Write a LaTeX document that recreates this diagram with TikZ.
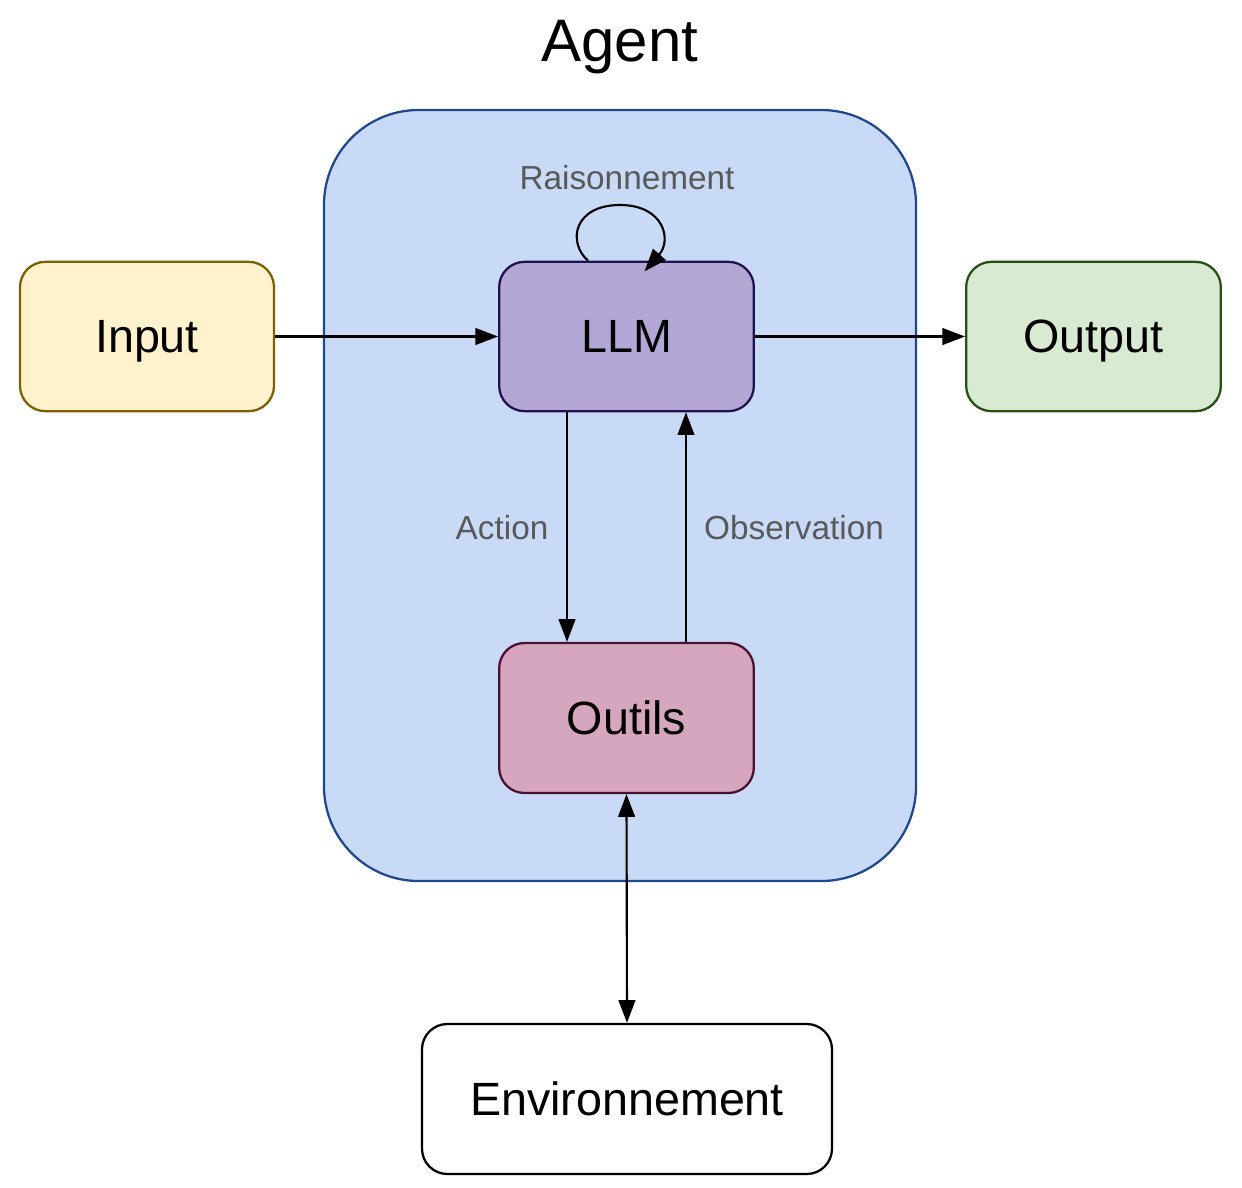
\documentclass[tikz,border=0pt]{standalone}
\usepackage{fontspec}
\setmainfont{Liberation Sans}
\usetikzlibrary{arrows.meta}
\definecolor{agentfill}{RGB}{201,218,247}
\definecolor{agentline}{RGB}{32,72,140}
\definecolor{infill}{RGB}{255,242,204}
\definecolor{inline}{RGB}{127,96,0}
\definecolor{llmfill}{RGB}{180,167,214}
\definecolor{llmline}{RGB}{32,18,77}
\definecolor{outfill}{RGB}{217,234,211}
\definecolor{outline}{RGB}{39,78,19}
\definecolor{toolfill}{RGB}{213,166,189}
\definecolor{toolline}{RGB}{76,17,48}
\definecolor{lblgray}{RGB}{89,89,89}
\tikzset{
  boxnode/.style={rectangle, rounded corners=19pt, line width=1.7pt, inner sep=0pt,
     minimum width=191pt, minimum height=112pt, text depth=0pt, font=\fontsize{35}{40}\selectfont},
  arr/.style={line width=1.6pt, -{Triangle[length=17pt,width=12.5pt]}},
  lbl/.style={font=\fontsize{25}{30}\selectfont, text=lblgray},
}
\begin{document}
\begin{tikzpicture}[x=0.75pt,y=-0.75pt]
\useasboundingbox (0,0) rectangle (1242,1188);
\node[rectangle, rounded corners=71pt, fill=agentfill, draw=agentline, line width=1.7pt,
      minimum width=444pt, minimum height=578.25pt, inner sep=0pt] (agent) at (620,495.5) {};
\node[font=\fontsize{45}{54}\selectfont, anchor=base] (title) at (620,62) {Agent};
\node[boxnode, fill=infill, draw=inline, minimum width=190.5pt] (input) at (147,336.5) {Input};
\node[boxnode, fill=llmfill, draw=llmline] (llm) at (626.5,336.5) {LLM};
\node[boxnode, fill=outfill, draw=outline] (output) at (1093.5,336.5) {Output};
\node[boxnode, fill=toolfill, draw=toolline, minimum height=112.5pt] (outils) at (626.5,718) {Outils};
\node[boxnode, fill=white, draw=black, minimum width=307.5pt, minimum height=112.5pt] (env) at (627,1099) {Environnement};
\draw[arr] (input.east) -- (llm.west);
\draw[arr] (llm.east) -- (output.west);
\draw[arr] ([xshift=-44.6pt]llm.south) -- ([xshift=-44.6pt]outils.north);
\draw[arr] ([xshift=44.6pt]outils.north) -- ([xshift=44.6pt]llm.south);
\draw[arr, {Triangle[length=17pt,width=12.5pt]}-{Triangle[length=17pt,width=12.5pt]}] (outils.south) -- (env.north);
\draw[arr] ([xshift=-28.9pt]llm.north) .. controls (567,242) and (574,205) .. (620,205)
   .. controls (664,205) and (672,240) .. ([xshift=13.5pt,yshift=-8pt]llm.north);
\node[lbl] (lraison) at (627,178) {Raisonnement};
\node[lbl] (laction) at (502,528) {Action};
\node[lbl] (lobs) at (794,528) {Observation};
\end{tikzpicture}
\end{document}
